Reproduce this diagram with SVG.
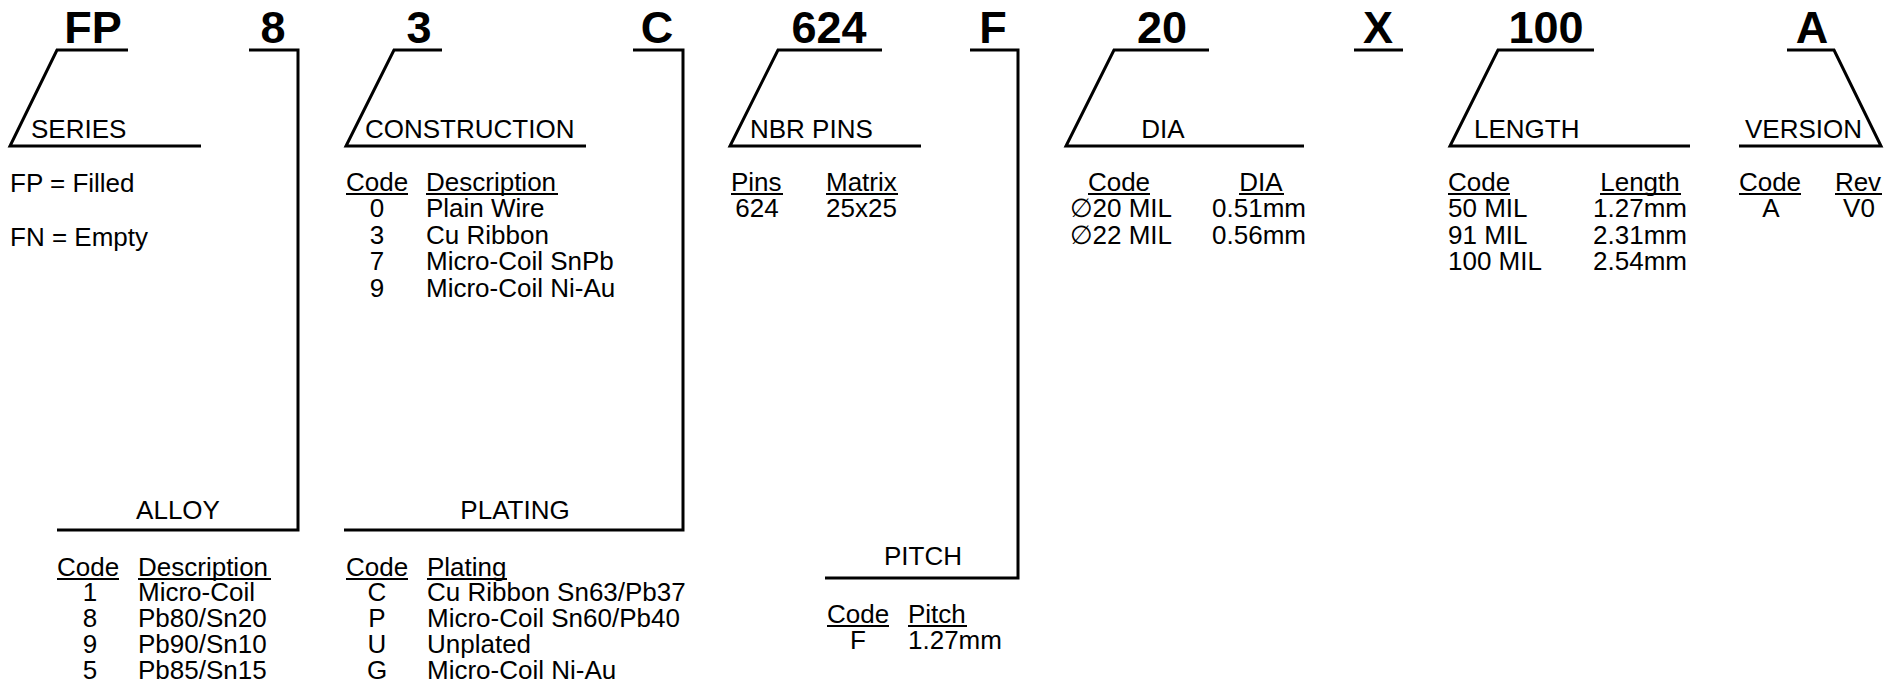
<svg xmlns="http://www.w3.org/2000/svg" width="1900" height="687" viewBox="0 0 1900 687">
<style>
.code{font-family:"Liberation Sans",Arial,sans-serif;font-weight:bold;font-size:45px;fill:#000;text-anchor:middle}
.t{font-family:"Liberation Sans",Arial,"DejaVu Sans",sans-serif;font-size:26px;fill:#000}
.m{text-anchor:middle}
.ln{fill:none;stroke:#000;stroke-width:3;stroke-linejoin:miter;stroke-linecap:butt}
.ul{stroke:#000;stroke-width:2}
</style>
<rect width="1900" height="687" fill="#fff"/>
<g id="connectors">
<polyline class="ln" points="128,50 57,50 10,146 201,146"/>
<polyline class="ln" points="249,50 298,50 298,530 57,530"/>
<polyline class="ln" points="442,50 394,50 346,146 586,146"/>
<polyline class="ln" points="633,50 683,50 683,530 344,530"/>
<polyline class="ln" points="882,50 778,50 730,146 921,146"/>
<polyline class="ln" points="970,50 1018,50 1018,578 825,578"/>
<polyline class="ln" points="1209,50 1114,50 1066,146 1304,146"/>
<polyline class="ln" points="1354,50 1403,50"/>
<polyline class="ln" points="1594,50 1498,50 1450,146 1690,146"/>
<polyline class="ln" points="1787,50 1834,50 1881,146 1739,146"/>
</g>
<g id="codes">
<text class="code" x="93" y="43">FP</text>
<text class="code" x="273" y="43">8</text>
<text class="code" x="419" y="43">3</text>
<text class="code" x="657" y="43">C</text>
<text class="code" x="829" y="43">624</text>
<text class="code" x="993" y="43">F</text>
<text class="code" x="1162" y="43">20</text>
<text class="code" x="1378" y="43">X</text>
<text class="code" x="1546" y="43">100</text>
<text class="code" x="1812" y="43">A</text>
</g>
<g id="series">
<text class="t" x="31" y="138">SERIES</text>
<text class="t" x="10" y="192">FP = Filled</text>
<text class="t" x="10" y="246">FN = Empty</text>
</g>
<g id="construction">
<text class="t" x="365" y="138">CONSTRUCTION</text>
<text class="t" x="346" y="191">Code</text>
<line class="ul" x1="346" y1="194" x2="408" y2="194"/>
<text class="t" x="426" y="191">Description</text>
<line class="ul" x1="426" y1="194" x2="558" y2="194"/>
<text class="t m" x="377" y="217">0</text><text class="t" x="426" y="217">Plain Wire</text>
<text class="t m" x="377" y="244">3</text><text class="t" x="426" y="244">Cu Ribbon</text>
<text class="t m" x="377" y="270">7</text><text class="t" x="426" y="270">Micro-Coil SnPb</text>
<text class="t m" x="377" y="297">9</text><text class="t" x="426" y="297">Micro-Coil Ni-Au</text>
</g>
<g id="nbr-pins">
<text class="t" x="750" y="138">NBR PINS</text>
<text class="t" x="731" y="191">Pins</text>
<line class="ul" x1="731" y1="194" x2="783" y2="194"/>
<text class="t" x="826" y="191">Matrix</text>
<line class="ul" x1="826" y1="194" x2="898" y2="194"/>
<text class="t m" x="757" y="217">624</text>
<text class="t" x="826" y="217">25x25</text>
</g>
<g id="dia">
<text class="t m" x="1163" y="138">DIA</text>
<text class="t m" x="1119" y="191">Code</text>
<line class="ul" x1="1088" y1="194" x2="1150" y2="194"/>
<text class="t m" x="1261" y="191">DIA</text>
<line class="ul" x1="1239" y1="194" x2="1284" y2="194"/>
<text class="t m" x="1121" y="217">∅20 MIL</text><text class="t m" x="1259" y="217">0.51mm</text>
<text class="t m" x="1121" y="244">∅22 MIL</text><text class="t m" x="1259" y="244">0.56mm</text>
</g>
<g id="length">
<text class="t" x="1474" y="138">LENGTH</text>
<text class="t" x="1448" y="191">Code</text>
<line class="ul" x1="1448" y1="194" x2="1510" y2="194"/>
<text class="t m" x="1640" y="191">Length</text>
<line class="ul" x1="1600" y1="194" x2="1681" y2="194"/>
<text class="t" x="1448" y="217">50 MIL</text><text class="t m" x="1640" y="217">1.27mm</text>
<text class="t" x="1448" y="244">91 MIL</text><text class="t m" x="1640" y="244">2.31mm</text>
<text class="t" x="1448" y="270">100 MIL</text><text class="t m" x="1640" y="270">2.54mm</text>
</g>
<g id="version">
<text class="t" x="1745" y="138">VERSION</text>
<text class="t m" x="1770" y="191">Code</text>
<line class="ul" x1="1739" y1="194" x2="1801" y2="194"/>
<text class="t m" x="1858" y="191">Rev</text>
<line class="ul" x1="1835" y1="194" x2="1882" y2="194"/>
<text class="t m" x="1771" y="217">A</text>
<text class="t m" x="1859" y="217">V0</text>
</g>
<g id="alloy">
<text class="t m" x="178" y="519">ALLOY</text>
<text class="t" x="57" y="576">Code</text>
<line class="ul" x1="57" y1="579" x2="119" y2="579"/>
<text class="t" x="138" y="576">Description</text>
<line class="ul" x1="138" y1="579" x2="271" y2="579"/>
<text class="t m" x="90" y="601">1</text><text class="t" x="138" y="601">Micro-Coil</text>
<text class="t m" x="90" y="627">8</text><text class="t" x="138" y="627">Pb80/Sn20</text>
<text class="t m" x="90" y="653">9</text><text class="t" x="138" y="653">Pb90/Sn10</text>
<text class="t m" x="90" y="679">5</text><text class="t" x="138" y="679">Pb85/Sn15</text>
</g>
<g id="plating">
<text class="t m" x="515" y="519">PLATING</text>
<text class="t" x="346" y="576">Code</text>
<line class="ul" x1="346" y1="579" x2="408" y2="579"/>
<text class="t" x="427" y="576">Plating</text>
<line class="ul" x1="427" y1="579" x2="507" y2="579"/>
<text class="t m" x="377" y="601">C</text><text class="t" x="427" y="601">Cu Ribbon Sn63/Pb37</text>
<text class="t m" x="377" y="627">P</text><text class="t" x="427" y="627">Micro-Coil Sn60/Pb40</text>
<text class="t m" x="377" y="653">U</text><text class="t" x="427" y="653">Unplated</text>
<text class="t m" x="377" y="679">G</text><text class="t" x="427" y="679">Micro-Coil Ni-Au</text>
</g>
<g id="pitch">
<text class="t m" x="923" y="565">PITCH</text>
<text class="t" x="827" y="623">Code</text>
<line class="ul" x1="827" y1="626" x2="889" y2="626"/>
<text class="t" x="908" y="623">Pitch</text>
<line class="ul" x1="908" y1="626" x2="967" y2="626"/>
<text class="t m" x="858" y="649">F</text>
<text class="t" x="908" y="649">1.27mm</text>
</g>
</svg>
